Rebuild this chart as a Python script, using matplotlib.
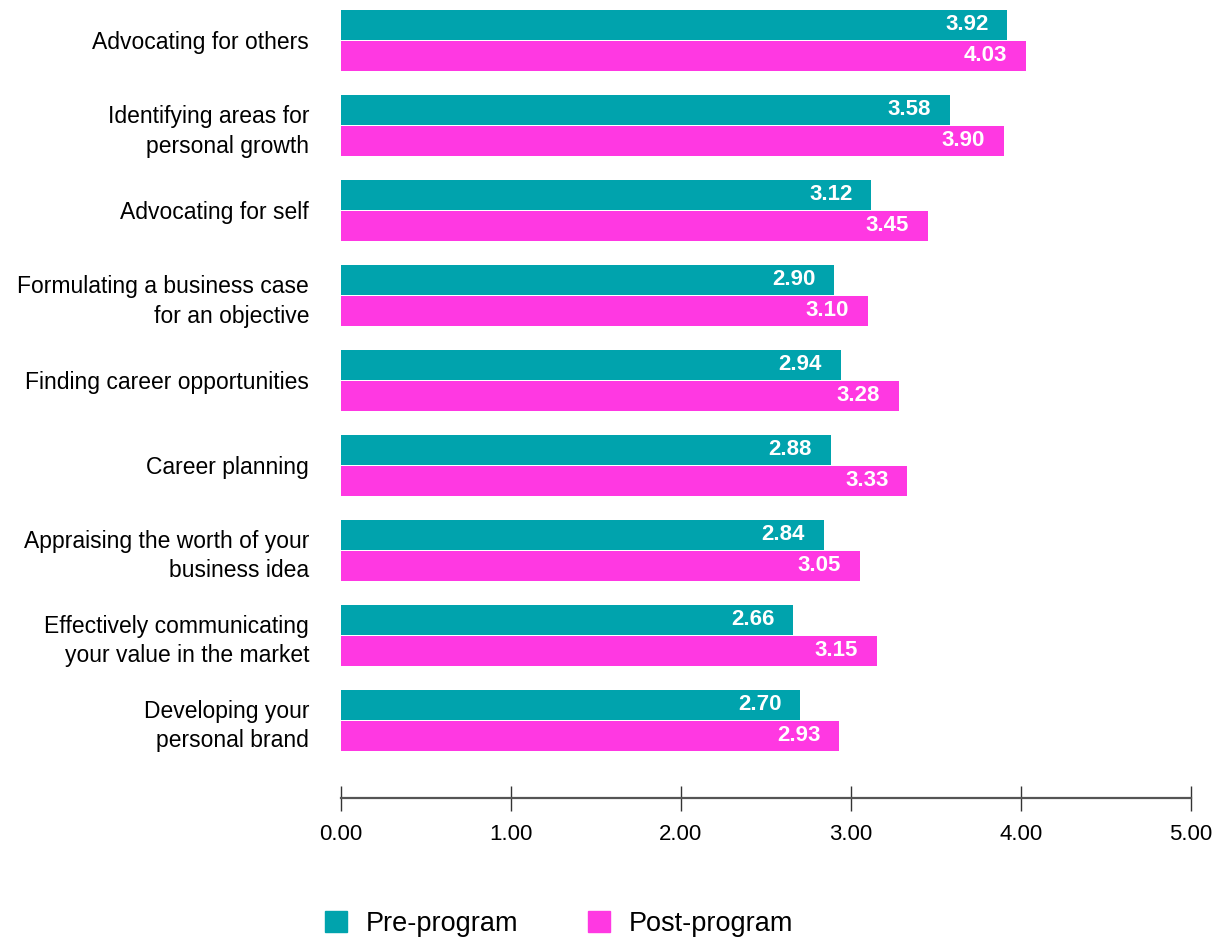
import numpy as np
import matplotlib.pyplot as plt
from matplotlib.patches import Patch

plt.rcParams['font.family'] = ['Liberation Sans', 'DejaVu Sans']

categories = [
    "Advocating for others",
    "Identifying areas for\npersonal growth",
    "Advocating for self",
    "Formulating a business case\nfor an objective",
    "Finding career opportunities",
    "Career planning",
    "Appraising the worth of your\nbusiness idea",
    "Effectively communicating\nyour value in the market",
    "Developing your\npersonal brand",
]
pre_program = [3.92, 3.58, 3.12, 2.90, 2.94, 2.88, 2.84, 2.66, 2.70]
post_program = [4.03, 3.90, 3.45, 3.10, 3.28, 3.33, 3.05, 3.15, 2.93]
x_ticks = [0, 1, 2, 3, 4, 5]

teal = '#00A3AD'
pink = '#FF38E2'

fig = plt.figure(figsize=(12.2, 9.42), dpi=100)
ax = fig.add_axes([341 / 1220, 1 - 798 / 942, 850 / 1220, 798 / 942])

y = np.arange(len(categories))
h = 30 / 85
gap = 1 / 85
ax.barh(y - (h + gap) / 2, pre_program, height=h, color=teal)
ax.barh(y + (h + gap) / 2, post_program, height=h, color=pink)

# value labels inside the bar ends
for i, (a, b) in enumerate(zip(pre_program, post_program)):
    ax.text(a - 0.11, i - (h + gap) / 2, f"{a:.2f}", ha='right', va='center',
            color='white', fontsize=16, fontweight='bold')
    ax.text(b - 0.11, i + (h + gap) / 2, f"{b:.2f}", ha='right', va='center',
            color='white', fontsize=16, fontweight='bold')

ax.set_xlim(0, 5)
ax.set_ylim(8 + 78 / 85, -40.5 / 85)
ax.set_yticks(y)
ax.set_yticklabels(categories, fontsize=16.5, linespacing=1.38)
ax.tick_params(axis='y', length=0, pad=23)
ax.set_xticks(x_ticks)
ax.set_xticklabels([f"{v:.2f}" for v in x_ticks], fontsize=16)
ax.tick_params(axis='x', direction='inout', length=18, width=1, color='#333333', pad=10)

for s in ['top', 'right', 'left']:
    ax.spines[s].set_visible(False)
ax.spines['bottom'].set_color('#555555')
ax.spines['bottom'].set_linewidth(1.6)

handles = [Patch(color=teal, label='Pre-program'), Patch(color=pink, label='Post-program')]
fig.legend(handles=handles, loc='center', bbox_to_anchor=(559 / 1220, 1 - 924 / 942),
           ncol=2, frameon=False, fontsize=19.5, handlelength=0.8, handleheight=0.8,
           handletextpad=0.68, columnspacing=2.6)

fig.savefig('out.png', dpi=100)
